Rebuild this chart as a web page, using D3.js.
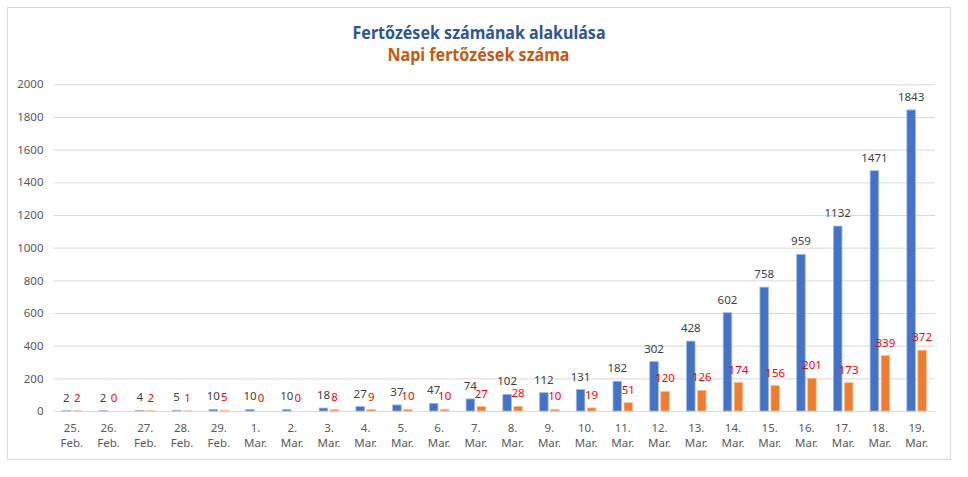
<!DOCTYPE html>
<html>
<head>
<meta charset="utf-8">
<title>Fertőzések számának alakulása</title>
<style>
  body { margin: 0; background: #fff; }
  svg { display: block; font-family: 'Noto Sans', 'Open Sans', sans-serif; }
</style>
</head>
<body>
<div id="chart"></div>
<script src="https://d3js.org/d3.v7.min.js"></script>
<script>
// chart data
var days = ["25.", "26.", "27.", "28.", "29.", "1.", "2.", "3.", "4.", "5.", "6.", "7.", "8.",
            "9.", "10.", "11.", "12.", "13.", "14.", "15.", "16.", "17.", "18.", "19."];
var months = ["Feb.", "Feb.", "Feb.", "Feb.", "Feb.", "Mar.", "Mar.", "Mar.", "Mar.", "Mar.", "Mar.", "Mar.",
              "Mar.", "Mar.", "Mar.", "Mar.", "Mar.", "Mar.", "Mar.", "Mar.", "Mar.", "Mar.", "Mar.", "Mar."];
var totalCases = [2, 2, 4, 5, 10, 10, 10, 18, 27, 37, 47, 74, 102, 112, 131, 182, 302, 428, 602, 758, 959, 1132, 1471, 1843];
var dailyCases = [2, 0, 2, 1, 5, 0, 0, 8, 9, 10, 10, 27, 28, 10, 19, 51, 120, 126, 174, 156, 201, 173, 339, 372];
var yTicks = [0, 200, 400, 600, 800, 1000, 1200, 1400, 1600, 1800, 2000];

var width = 968, height = 477;

var svg = d3.select("#chart").append("svg")
    .attr("width", width)
    .attr("height", height);

// chart area border
svg.append("rect")
    .attr("x", 7.5).attr("y", 7.5)
    .attr("width", 943).attr("height", 452)
    .attr("fill", "#fff")
    .attr("stroke", "#d9d9d9");

// titles
svg.append("text")
    .attr("x", 479).attr("y", 38.5)
    .attr("text-anchor", "middle")
    .attr("font-size", "17px").attr("font-weight", "bold")
    .attr("fill", "#2f5597")
    .attr("textLength", 253).attr("lengthAdjust", "spacingAndGlyphs")
    .text("Fertőzések számának alakulása");

svg.append("text")
    .attr("x", 478.5).attr("y", 60.5)
    .attr("text-anchor", "middle")
    .attr("font-size", "17px").attr("font-weight", "bold")
    .attr("fill", "#c55a11")
    .attr("textLength", 182).attr("lengthAdjust", "spacingAndGlyphs")
    .text("Napi fertőzések száma");

var idx = d3.range(days.length);

var x = d3.scaleBand()
    .domain(idx)
    .range([53.5, 935]);

var x1 = d3.scaleBand()
    .domain(["total", "daily"])
    .range([0, x.bandwidth()])
    .paddingInner(0.22)
    .paddingOuter(0.78);

var y = d3.scaleLinear()
    .domain([0, 2000])
    .range([411, 84.3]);

// gridlines + y labels
var yAxis = d3.axisLeft(y)
    .tickValues(yTicks)
    .tickSize(-(935 - 53.5))
    .tickPadding(10)
    .tickFormat(d3.format("d"));

var gy = svg.append("g")
    .attr("transform", "translate(53.5,0)")
    .call(yAxis);
gy.select(".domain").remove();
gy.selectAll(".tick line").attr("stroke", "#d9d9d9");
gy.selectAll(".tick text")
    .attr("fill", "#595959")
    .attr("font-size", "11.5px")
    .attr("font-family", "'Noto Sans', 'Open Sans', sans-serif");

// x labels (two lines)
var xl = svg.append("g").selectAll("text")
    .data(idx)
    .enter().append("text")
    .attr("text-anchor", "middle")
    .attr("fill", "#595959")
    .attr("font-size", "11.5px");
xl.append("tspan")
    .attr("x", function(i) { return x(i) + x.bandwidth() / 2; })
    .attr("y", 432)
    .text(function(i) { return days[i]; });
xl.append("tspan")
    .attr("x", function(i) { return x(i) + x.bandwidth() / 2; })
    .attr("y", 447)
    .text(function(i) { return months[i]; });

var series = [
  { key: "total", values: totalCases, fill: "#4472c4", edge: "#a3b9e4", label: "#404040" },
  { key: "daily", values: dailyCases, fill: "#ed7d31", edge: "#f7c09a", label: "#ff0000" }
];

series.forEach(function(s) {
  var g = svg.append("g");

  g.selectAll("rect")
      .data(idx.filter(function(i) { return s.values[i] > 0; }))
      .enter().append("rect")
      .attr("x", function(i) { return x(i) + x1(s.key); })
      .attr("y", function(i) { return y(s.values[i]); })
      .attr("width", x1.bandwidth())
      .attr("height", function(i) { return y(0) - y(s.values[i]); })
      .attr("fill", s.fill)
      .attr("stroke", s.edge)
      .attr("stroke-width", 0.8);

  g.selectAll("text")
      .data(idx)
      .enter().append("text")
      .attr("x", function(i) { return x(i) + x1(s.key) + x1.bandwidth() / 2; })
      .attr("y", function(i) { return y(s.values[i]) - 9; })
      .attr("text-anchor", "middle")
      .attr("fill", s.label)
      .attr("font-size", "11.5px")
      .text(function(i) { return s.values[i]; });
});
</script>
</body>
</html>
